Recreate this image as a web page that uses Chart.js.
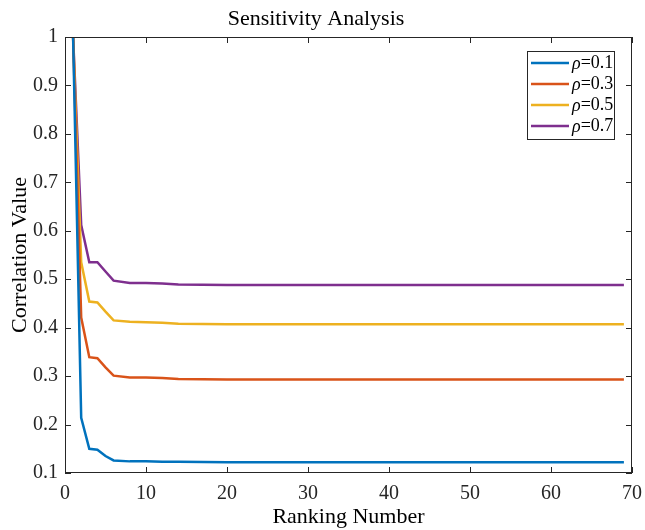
<!DOCTYPE html>
<html>
<head>
<meta charset="utf-8">
<script src="https://cdn.jsdelivr.net/npm/chart.js@4/dist/chart.umd.min.js"></script>
<style>
	html, body { margin: 0; padding: 0; background: #fff; }
	#wrap { width: 645px; height: 530px; }
</style>
</head>
<body>
<div id="wrap"><canvas id="sensChart"></canvas></div>
<script>
//	Ranking numbers where the curves change (the curves are flat after 20)
var rankX = [1, 2, 3, 4, 5, 6, 8, 10, 12, 14, 20, 30, 69];
//	Correlation value for each rho
var rho01 = [1.0, 0.214, 0.150, 0.148, 0.135, 0.126, 0.124, 0.124, 0.123, 0.123, 0.122, 0.122, 0.122];
var rho03 = [1.0, 0.421, 0.339, 0.337, 0.318, 0.301, 0.297, 0.297, 0.296, 0.294, 0.293, 0.293, 0.293];
var rho05 = [1.0, 0.535, 0.454, 0.452, 0.433, 0.415, 0.412, 0.411, 0.410, 0.408, 0.407, 0.407, 0.407];
var rho07 = [1.0, 0.612, 0.535, 0.535, 0.516, 0.497, 0.492, 0.492, 0.491, 0.489, 0.488, 0.488, 0.488];
var seriesLabels = ['0.1', '0.3', '0.5', '0.7'];
var seriesColors = ['#0072BD', '#D95319', '#EDB120', '#7E2F8E'];
var xTicks = [0, 10, 20, 30, 40, 50, 60, 70];
var yTicks = [0.1, 0.2, 0.3, 0.4, 0.5, 0.6, 0.7, 0.8, 0.9, 1];

var serif = '"Liberation Serif", "Times New Roman", serif';
var axisColor = '#262626';

function toPoints(values) {
	return rankX.map(function (x, i) { return { x: x, y: values[i] }; });
}

/**
 *	Draws the MATLAB style box with inward ticks on all four sides
 */
var boxPlugin = {
	id: 'boxTicks',
	afterDatasetsDraw: function (chart) {
		var ctx = chart.ctx;
		var a = chart.chartArea;
		var xs = chart.scales.x, ys = chart.scales.y;
		var len = 6;
		ctx.save();
		ctx.strokeStyle = axisColor;
		ctx.lineWidth = 1;
		ctx.strokeRect(a.left + 0.5, a.top + 0.5, a.right - a.left - 1, a.bottom - a.top - 1);
		ctx.beginPath();
		xTicks.forEach(function (v) {
			var px = Math.round(xs.getPixelForValue(v)) + 0.5;
			ctx.moveTo(px, a.bottom); ctx.lineTo(px, a.bottom - len);
			ctx.moveTo(px, a.top); ctx.lineTo(px, a.top + len);
		});
		yTicks.forEach(function (v) {
			var py = Math.round(ys.getPixelForValue(v)) + 0.5;
			ctx.moveTo(a.left, py); ctx.lineTo(a.left + len, py);
			ctx.moveTo(a.right, py); ctx.lineTo(a.right - len, py);
		});
		ctx.stroke();
		ctx.restore();
	}
};

/**
 *	Legend box in the top right corner, with an italic rho
 */
var legendPlugin = {
	id: 'rhoLegend',
	afterDraw: function (chart) {
		var ctx = chart.ctx;
		var a = chart.chartArea;
		var boxW = 87, boxH = 88;
		var bx = a.right - 18 - boxW, by = a.top + 14;
		ctx.save();
		ctx.fillStyle = '#fff';
		ctx.fillRect(bx, by, boxW, boxH);
		ctx.strokeStyle = axisColor;
		ctx.lineWidth = 1;
		ctx.strokeRect(bx + 0.5, by + 0.5, boxW, boxH);
		chart.data.datasets.forEach(function (ds, i) {
			var cy = by + 12 + i * 21;
			ctx.strokeStyle = ds.borderColor;
			ctx.lineWidth = 2.5;
			ctx.beginPath();
			ctx.moveTo(bx + 4, cy);
			ctx.lineTo(bx + 42, cy);
			ctx.stroke();
			ctx.fillStyle = '#000';
			ctx.textBaseline = 'middle';
			ctx.textAlign = 'left';
			ctx.font = 'italic 18px ' + serif;
			ctx.fillText('\u03C1', bx + 45, cy + 1);
			var w = ctx.measureText('\u03C1').width;
			ctx.font = '18px ' + serif;
			ctx.fillText('=' + seriesLabels[i], bx + 45 + w, cy);
		});
		ctx.restore();
	}
};

var allSeries = [rho01, rho03, rho05, rho07];
var datasets = allSeries.map(function (vals, i) {
	return {
		label: '\u03C1=' + seriesLabels[i],
		data: toPoints(vals),
		borderColor: seriesColors[i],
		backgroundColor: seriesColors[i],
		borderWidth: 2.5,
		pointRadius: 0,
		tension: 0,
		fill: false
	};
});

var ctx = document.getElementById('sensChart');
var sensChart = new Chart(ctx, {
	type: 'line',
	data: { datasets: datasets },
	options: {
		responsive: true,
		maintainAspectRatio: false,
		animation: false,
		layout: { padding: { left: 0, right: 13, top: 0, bottom: 0 } },
		plugins: {
			legend: { display: false },
			tooltip: { enabled: false },
			title: {
				display: true,
				text: 'Sensitivity Analysis',
				color: '#000',
				font: { family: serif, size: 22, weight: 'normal' },
				padding: { top: 6, bottom: 4.6 }
			}
		},
		scales: {
			x: {
				type: 'linear',
				min: 0,
				max: 70,
				afterBuildTicks: function (s) { s.ticks = xTicks.map(function (v) { return { value: v }; }); },
				afterFit: function (s) { s.height = 57; s.paddingLeft = 0; s.paddingRight = 0; },
				grid: { display: false, drawTicks: false },
				border: { display: false },
				ticks: {
					color: axisColor,
					padding: 9,
					maxRotation: 0,
					font: { family: serif, size: 20 }
				},
				title: {
					display: true,
					text: 'Ranking Number',
					color: '#000',
					font: { family: serif, size: 22 },
					padding: { top: 0, bottom: 0 }
				}
			},
			y: {
				type: 'linear',
				min: 0.1,
				max: 1,
				afterBuildTicks: function (s) { s.ticks = yTicks.map(function (v) { return { value: v }; }); },
				afterFit: function (s) { s.width = 65; s.paddingTop = 0; s.paddingBottom = 0; },
				grid: { display: false, drawTicks: false },
				border: { display: false },
				ticks: {
					color: axisColor,
					padding: 7,
					font: { family: serif, size: 20 },
					callback: function (v) { return String(Math.round(v * 10) / 10); }
				},
				title: {
					display: true,
					text: 'Correlation Value',
					color: '#000',
					font: { family: serif, size: 22 },
					padding: { top: 7, bottom: 0 }
				}
			}
		}
	},
	plugins: [boxPlugin, legendPlugin]
});
</script>
</body>
</html>
